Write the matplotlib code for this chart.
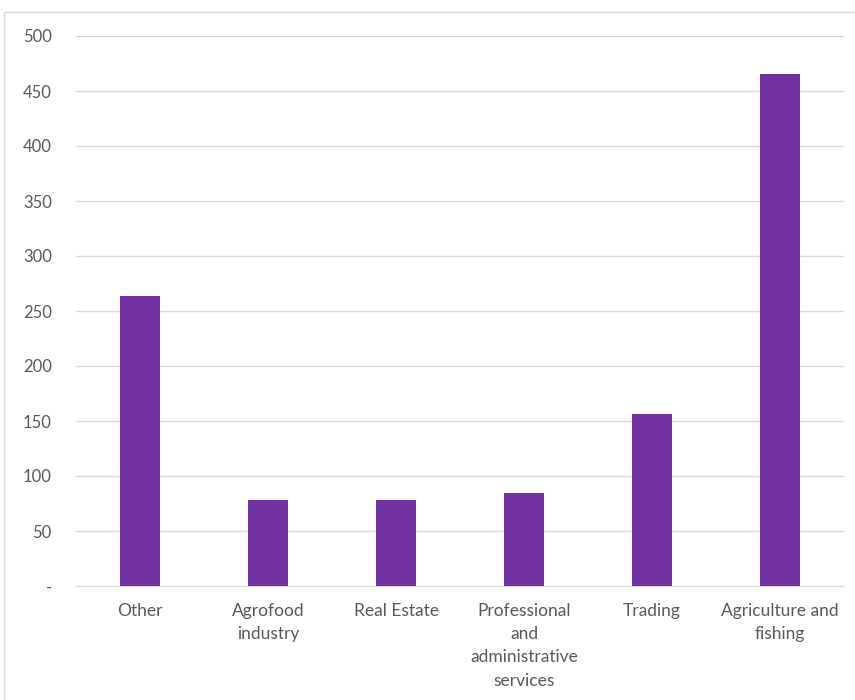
import matplotlib
matplotlib.use("Agg")
import matplotlib.pyplot as plt
from matplotlib.patches import Rectangle
from matplotlib.ticker import FixedLocator, FuncFormatter

categories = ["Other", "Agrofood\nindustry", "Real Estate",
              "Professional\nand\nadministrative\nservices", "Trading",
              "Agriculture and\nfishing"]
values = [264, 78, 78.5, 84.5, 156, 465]
yticks = [0, 50, 100, 150, 200, 250, 300, 350, 400, 450, 500]

plt.rcParams['font.family'] = ['Lato', 'DejaVu Sans']
fig = plt.figure(figsize=(8.55, 7.0), dpi=100)
ax = fig.add_axes([76/855, 1-586/700, (844-76)/855, (586-36)/700])

x = list(range(len(categories)))
ax.bar(x, values, width=0.31, color="#7030A0", zorder=3)
ax.set_xlim(-0.5, len(categories)-0.5)
ax.set_ylim(0, 500)
ax.yaxis.set_major_locator(FixedLocator(yticks))
ax.yaxis.set_major_formatter(FuncFormatter(lambda v, p: "-" if v == 0 else f"{int(v)}"))
ax.grid(axis='y', color="#D9D9D9", linewidth=1, zorder=0)
ax.set_xticks(x)
ax.set_xticklabels(categories, linespacing=1.57, va='top')
for s in ["top", "right", "left"]:
    ax.spines[s].set_visible(False)
ax.spines["bottom"].set_color("#D9D9D9")
ax.tick_params(axis='both', length=0, colors="#595959", labelsize=12.5)
ax.tick_params(axis='x', pad=12)
ax.tick_params(axis='y', pad=17.5, labelsize=12)

fig.patches.append(Rectangle((4/855, -0.05), 1.0, 1-12/700+0.05, transform=fig.transFigure,
                             fill=False, edgecolor="#D9D9D9", linewidth=1))

fig.savefig("out.png", dpi=100)
